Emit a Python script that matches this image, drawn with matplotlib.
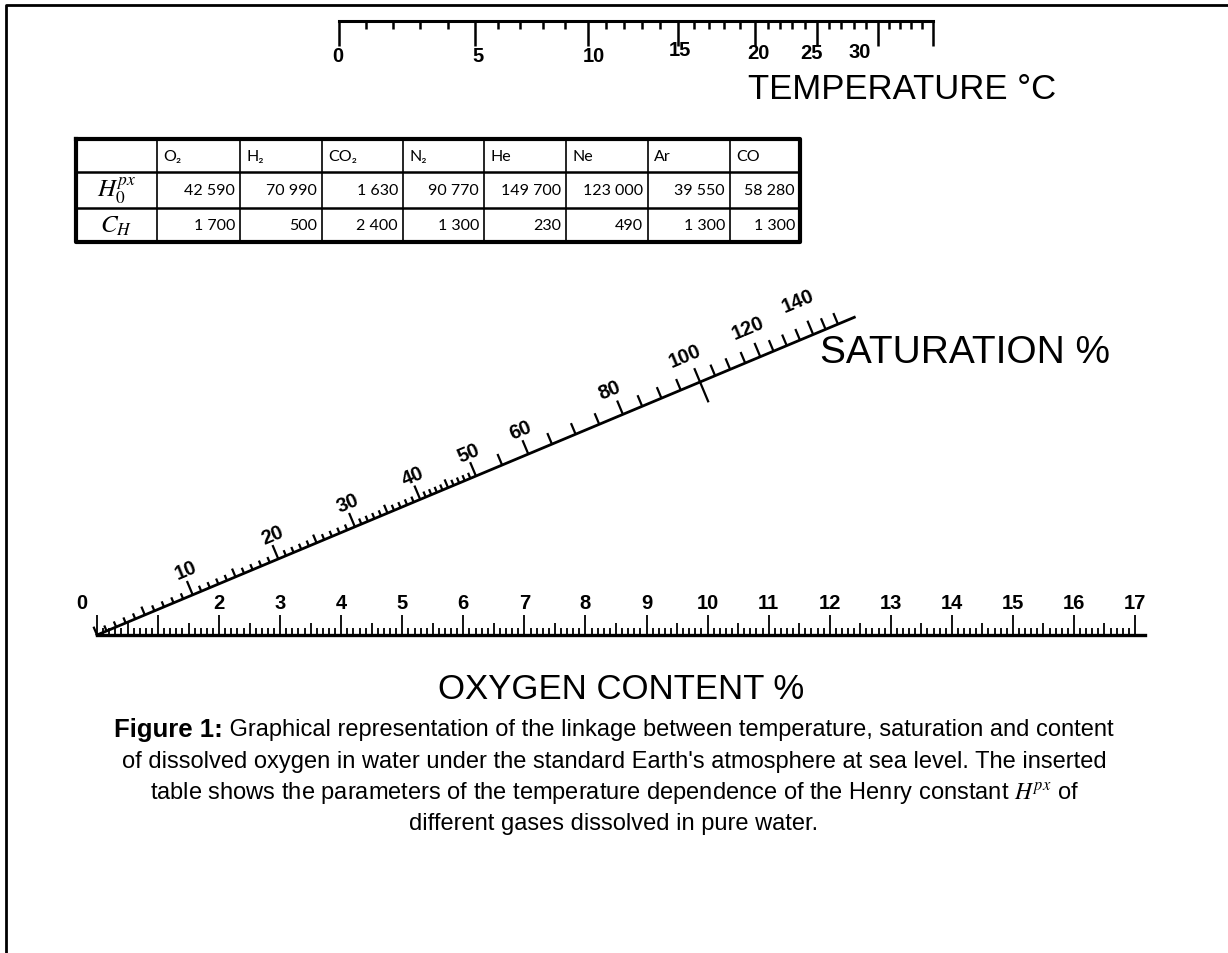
import numpy as np
import matplotlib
matplotlib.use("Agg")
import matplotlib.pyplot as plt

plt.rcParams['font.family'] = ['Liberation Sans', 'DejaVu Sans']
plt.rcParams['mathtext.fontset'] = 'stix'

# temperature scale (deg C): labelled marks and their place on the content axis
temp_major = [0, 5, 10, 15, 20, 25, 30, 35]
temp_pos = [3.96, 6.19, 8.04, 9.52, 10.78, 11.79, 12.79, 13.69]
temp_labels = [0, 5, 10, 15, 20, 25, 30]

# saturation scale (%): distance of each mark along the slanted line
sat_major = [0, 10, 20, 30, 40, 50, 60, 80, 100, 120, 140, 150]
sat_pos = [0.0, 1.70, 3.22, 4.58, 5.74, 6.73, 7.66, 9.34, 10.71, 11.78, 12.72, 13.16]
sat_labels = [10, 20, 30, 40, 50, 60, 80, 100, 120, 140]

# oxygen content scale
oxy_labels = [0] + list(range(2, 18))

# inserted table
gases = ["O₂", "H₂", "CO₂", "N₂", "He", "Ne", "Ar", "CO"]
h0_px = ["42 590", "70 990", "1 630", "90 770", "149 700", "123 000", "39 550", "58 280"]
c_h = ["1 700", "500", "2 400", "1 300", "230", "490", "1 300", "1 300"]
row_names = [r"$H_0^{px}$", r"$C_H$"]

W, H = 1228, 954
PX = 61.06            # pixels per content unit
ox, oy = 97, 636      # origin of the content scale (pixels from top-left)

fig = plt.figure(figsize=(W / 100, H / 100), dpi=100)
ax = fig.add_axes([0, 0, 1, 1])
ax.set_xlim(-ox / PX, (W - ox) / PX)
ax.set_ylim(-(H - oy) / PX, oy / PX)
ax.axis('off')

def px(v):
    return v / PX

# frame (top and left edges)
left, top = px(6 - ox), px(oy - 6)
ax.plot([left, left, px(W - ox) + 1], [px(oy - H) - 1, top, top], color='black', lw=2, solid_capstyle='butt')

# ---- temperature scale ----
yt = px(oy - 22)
ax.plot([temp_pos[0], temp_pos[-1]], [yt, yt], color='black', lw=2.2)
for t in range(0, 36):
    x = np.interp(t, temp_major, temp_pos)
    ln = 25 if t % 5 == 0 else 8
    ax.plot([x, x], [yt, yt - px(ln)], color='black', lw=1.8, solid_capstyle='butt')
# small hand placement of the printed numbers (px)
temp_nudge = {0: (-1, 0), 5: (3, 0), 10: (6, 0), 15: (2, -6), 20: (3, -3), 25: (-5, -3), 30: (-18, -4)}
for t in temp_labels:
    x = np.interp(t, temp_major, temp_pos)
    dx, dy = temp_nudge[t]
    ax.text(x + px(dx), px(oy - 57 - dy), str(t), ha='center', va='center', fontsize=14.5, fontweight='bold')
ax.text(px(748 - ox), px(oy - 90), "TEMPERATURE °C", ha='left', va='center', fontsize=25)

# ---- saturation scale ----
theta = np.arctan2(318, 758)
u = np.array([np.cos(theta), np.sin(theta)])
n = np.array([-np.sin(theta), np.cos(theta)])
end = 13.45 * u
ax.plot([0, end[0]], [0, end[1]], color='black', lw=2)
sat_ticks = list(range(0, 51)) + list(range(55, 151, 5))
for s in sat_ticks:
    p = np.interp(s, sat_major, sat_pos) * u
    lo, hi = 0, 6
    if s == 100:
        lo, hi = -22, 15
    elif s in sat_labels:
        hi = 15
    elif s > 50:
        hi = 12
    elif s % 5 == 0:
        hi = 9
    a = p + n * px(lo)
    b = p + n * px(hi)
    ax.plot([a[0], b[0]], [a[1], b[1]], color='black', lw=1.6, solid_capstyle='butt')
# label offsets from the tick foot: (along normal, along line) in px
sat_label_off = {10: (26, 4), 20: (25, 4), 30: (25, 3), 40: (25, 3), 50: (25, 2), 60: (26, 2),
                 80: (28, -3), 100: (30, -4), 120: (32, 0), 140: (37, -1)}
for s in sat_labels:
    off_n, off_u = sat_label_off[s]
    p = np.interp(s, sat_major, sat_pos) * u + n * px(off_n) + u * px(off_u)
    ax.text(p[0], p[1], str(s), ha='center', va='center', fontsize=14.5, fontweight='bold',
            rotation=np.degrees(theta), rotation_mode='anchor')
ax.text(px(820 - ox), px(oy - 353), "SATURATION %", ha='left', va='center', fontsize=28)

# ---- oxygen content scale ----
ax.plot([0, px(1145 - ox)], [0, 0], color='black', lw=2.4)
for k in range(0, 171):
    x = k / 10
    ln = 20 if k % 10 == 0 else (12 if k % 5 == 0 else 7)
    ax.plot([x, x], [0, px(ln)], color='black', lw=1.3, solid_capstyle='butt')
for c in oxy_labels:
    x = c - (px(15) if c == 0 else 0)
    ax.text(x, px(oy - 604), str(c), ha='center', va='center', fontsize=14.5, fontweight='bold')
ax.text(px(621 - ox), px(oy - 690), "OXYGEN CONTENT %", ha='center', va='center', fontsize=25)

# ---- table ----
tax = fig.add_axes([76 / W, 1 - 243 / H, 724 / W, 103 / H])
tax.set_xlim(0, 724)
tax.set_ylim(103, 0)
tax.axis('off')
col_edges = [0, 81, 164, 246, 327, 408, 490, 572, 654, 724]
row_edges = [0, 33, 69, 103]
for xe in col_edges[1:-1]:
    tax.plot([xe, xe], [0, 103], color='black', lw=1.2)
for ye in row_edges[1:-1]:
    tax.plot([0, 724], [ye, ye], color='black', lw=1.8)
tax.plot([0, 724, 724, 0, 0], [0, 0, 103, 103, 0], color='black', lw=3, clip_on=False)
cell_font = ['Lato', 'DejaVu Sans']
for i, g in enumerate(gases):
    tax.text(col_edges[i + 1] + 6, (row_edges[0] + row_edges[1]) / 2, g, ha='left', va='center',
             fontsize=11.5, family=cell_font)
for r, vals in enumerate([h0_px, c_h]):
    yc = (row_edges[r + 1] + row_edges[r + 2]) / 2
    tax.text((col_edges[0] + col_edges[1]) / 2, yc, row_names[r], ha='center', va='center', fontsize=18)
    for i, v in enumerate(vals):
        tax.text(col_edges[i + 2] - 5, yc, v, ha='right', va='center', fontsize=11.5, family=cell_font)

# ---- caption ----
cap_y = [730, 762, 793, 824]
t1 = fig.text(0, 1 - cap_y[0] / H, "Figure 1:", fontsize=18.5, fontweight='bold', va='center')
t2 = fig.text(0, 1 - cap_y[0] / H, " Graphical representation of the linkage between temperature, saturation and content",
              fontsize=17, va='center')
fig.canvas.draw()
rend = fig.canvas.get_renderer()
w1 = t1.get_window_extent(rend).width
w2 = t2.get_window_extent(rend).width
x_start = (W / 2 - (w1 + w2) / 2) / W
t1.set_x(x_start)
t2.set_x(x_start + w1 / W)
rest = [
    "of dissolved oxygen in water under the standard Earth's atmosphere at sea level. The inserted",
    r"table shows the parameters of the temperature dependence of the Henry constant $H^{px}$ of",
    "different gases dissolved in pure water.",
]
for yy, line in zip(cap_y[1:], rest):
    fig.text(0.5, 1 - yy / H, line, ha='center', va='center', fontsize=17)

fig.savefig("out.png", dpi=100)
